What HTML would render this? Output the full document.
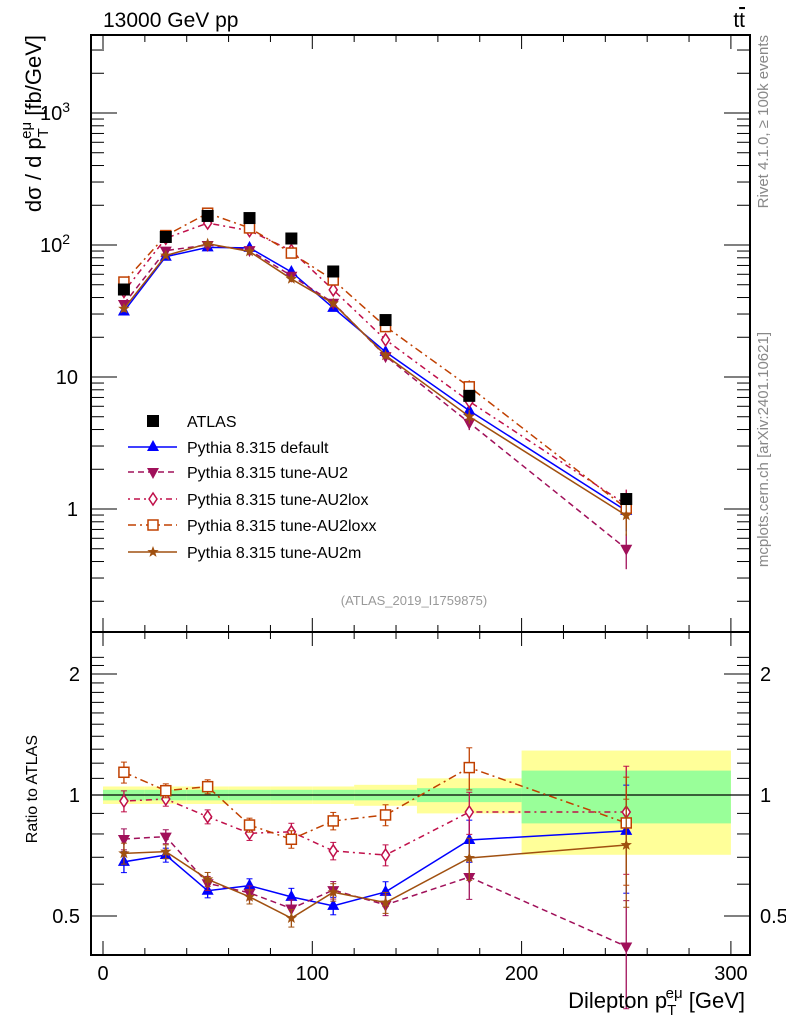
<!DOCTYPE html>
<html><head><meta charset="utf-8"><style>
body{margin:0;background:#fff;}
svg{display:block;font-family:"Liberation Sans",sans-serif;}
</style></head><body>
<svg id="c" width="786" height="1024" xmlns="http://www.w3.org/2000/svg"></svg>
<script>
const xCenters=[10,30,50,70,90,110,135,175,250];
const xEdges=[0,20,40,60,80,100,120,150,200,300];
const atlas=[46,115,166,160,112,63,27,7.2,1.19];
const rDefault=[0.682,0.709,0.578,0.595,0.558,0.530,0.574,0.773,0.814];
const rAU2=[0.777,0.788,0.603,0.571,0.522,0.580,0.533,0.625,0.42];
const rAU2lox=[0.966,0.977,0.883,0.803,0.810,0.726,0.709,0.907,0.907];
const rAU2loxx=[1.139,1.025,1.049,0.842,0.776,0.862,0.892,1.17,0.852];
const rAU2m=[0.716,0.723,0.617,0.558,0.494,0.573,0.54,0.697,0.751];
const statErr=[0.03,0.03,0.03,0.03,0.03,0.03,0.03,0.04,0.15];
const totErr=[0.05,0.05,0.05,0.05,0.05,0.05,0.06,0.10,0.29];
const mcErr=[0.06,0.04,0.04,0.04,0.05,0.05,0.06,0.12,0.3];
const mainTicks=[[1000,"10","3"],[100,"10","2"],[10,"10",""],[1,"1",""]];
const ratioTicks=[[2,"2"],[1,"1"],[0.5,"0.5"]];
const xTicks=[0,100,200,300];

const NS="http://www.w3.org/2000/svg",S=document.getElementById('c');
function el(t,a,p){const e=document.createElementNS(NS,t);for(const k in a)e.setAttribute(k,a[k]);(p||S).appendChild(e);return e;}
const X=v=>103+v*2.093;
const Y=v=>509-132*Math.log10(v);
const R=v=>795-402*Math.log10(v);
const L=91,Rt=750,T=35,M=632,B=955;

atlas.forEach((d,i)=>{
  let b=el('rect',{x:X(xEdges[i]),y:R(1+totErr[i]),width:X(xEdges[i+1])-X(xEdges[i]),height:R(1-totErr[i])-R(1+totErr[i]),fill:'#ffff99'});
  
  
  let g=el('rect',{x:X(xEdges[i]),y:R(1+statErr[i]),width:X(xEdges[i+1])-X(xEdges[i]),height:R(1-statErr[i])-R(1+statErr[i]),fill:'#99ff99'});
  
  
});
el('line',{x1:L,x2:Rt,y1:R(1),y2:R(1),stroke:'#000','stroke-width':1.2});

el('rect',{x:L,y:T,width:Rt-L,height:M-T,fill:'none',stroke:'#000','stroke-width':2});
el('rect',{x:L,y:M,width:Rt-L,height:B-M,fill:'none',stroke:'#000','stroke-width':2});

for(let v=0;v<=300;v+=20){const big=v%100==0;const l=big?14:7;
 [T,M].forEach(y0=>el('line',{x1:X(v),x2:X(v),y1:y0,y2:y0+l,stroke:'#000'}));
 el('line',{x1:X(v),x2:X(v),y1:B,y2:B-l,stroke:'#000'});el('line',{x1:X(v),x2:X(v),y1:M,y2:M-l,stroke:'#000'});}
xTicks.forEach(v=>{const t=el('text',{x:X(v),y:980,'text-anchor':'middle','font-size':20});t.textContent=v;
 });
for(let d=-1;d<4;d++)for(let m=1;m<10;m++){const v=m*Math.pow(10,d);const y=Y(v);if(y<T||y>M)continue;const l=m==1?26:13;
 el('line',{x1:L,x2:L+l,y1:y,y2:y,stroke:'#000'});el('line',{x1:Rt,x2:Rt-l,y1:y,y2:y,stroke:'#000'});}
mainTicks.forEach(t=>{const e=el('text',{x:78,y:Y(t[0])+7,'text-anchor':'end','font-size':20});
 
 e.textContent=t[1];if(t[2]){e.setAttribute('x',70);const s=el('tspan',{dy:-8,'font-size':14},e);s.textContent=t[2];}});
[0.4,0.5,0.6,0.7,0.8,0.9,1,1.1,1.2,1.3,1.4,1.5,1.6,1.7,1.8,1.9,2,2.1,2.2].forEach(v=>{const y=R(v);if(y<M||y>B)return;
 const l=(v==0.5||v==1||v==2)?26:13;el('line',{x1:L,x2:L+l,y1:y,y2:y,stroke:'#000'});el('line',{x1:Rt,x2:Rt-l,y1:y,y2:y,stroke:'#000'});});
ratioTicks.forEach(t=>{[[80,'end'],[760,'start']].forEach(p=>{const e=el('text',{x:p[0],y:R(t[0])+7,'text-anchor':p[1],'font-size':20});e.textContent=t[1];
 });});

const series=[
 {n:'default',r:rDefault,c:'#0000ff',d:'',m:'tri'},
 {n:'au2',r:rAU2,c:'#a0105a',d:'6,4',m:'tridown'},
 {n:'au2lox',r:rAU2lox,c:'#c0104a',d:'2,4,6,4',m:'diamond'},
 {n:'au2loxx',r:rAU2loxx,c:'#c04000',d:'8,4,2,4',m:'square'},
 {n:'au2m',r:rAU2m,c:'#a05010',d:'',m:'star'}];
function marker(type,x,y,c,g){
 if(type=='tri')return el('polygon',{points:`${x},${y-7} ${x-6},${y+4} ${x+6},${y+4}`,fill:c},g);
 if(type=='tridown')return el('polygon',{points:`${x},${y+7} ${x-6},${y-4} ${x+6},${y-4}`,fill:c},g);
 if(type=='diamond')return el('polygon',{points:`${x},${y-6} ${x-4},${y} ${x},${y+6} ${x+4},${y}`,fill:'#fff',stroke:c,'stroke-width':1.5},g);
 if(type=='square')return el('rect',{x:x-5,y:y-5,width:10,height:10,fill:'#fff',stroke:c,'stroke-width':1.5},g);
 if(type=='star'){let p=[];for(let k=0;k<10;k++){const a=-Math.PI/2+k*Math.PI/5,rr=k%2?2.5:6;p.push((x+rr*Math.cos(a))+','+(y+rr*Math.sin(a)));}
  return el('polygon',{points:p.join(' '),fill:c},g);}
}
series.forEach(s=>{
 const g=el('g',{});
 const mp=xCenters.map((x,i)=>X(x)+','+Y(atlas[i]*s.r[i])).join(' ');
 const rp=xCenters.map((x,i)=>X(x)+','+R(s.r[i])).join(' ');
 el('polyline',{points:mp,fill:'none',stroke:s.c,'stroke-width':1.5,'stroke-dasharray':s.d},g);
 el('polyline',{points:rp,fill:'none',stroke:s.c,'stroke-width':1.5,'stroke-dasharray':s.d},g);
 xCenters.forEach((x,i)=>{const v=atlas[i]*s.r[i],e=mcErr[i];
  el('line',{x1:X(x),x2:X(x),y1:Y(v*(1+e)),y2:Y(v*(1-e)),stroke:s.c,'stroke-width':1.3},g);
  el('line',{x1:X(x),x2:X(x),y1:R(s.r[i]*(1+e)),y2:R(s.r[i]*(1-e)),stroke:s.c,'stroke-width':1.3},g);
  [s.r[i]*(1+e),s.r[i]*(1-e)].forEach(q=>el('line',{x1:X(x)-3,x2:X(x)+3,y1:R(q),y2:R(q),stroke:s.c},g));
  const m1=marker(s.m,X(x),Y(v),s.c,g);
  const m2=marker(s.m,X(x),R(s.r[i]),s.c,g);
 });
});
xCenters.forEach((x,i)=>{const p=el('rect',{x:X(x)-6,y:Y(atlas[i])-6,width:12,height:12,fill:'#000'});
 });

const leg=[['ATLAS',null],['Pythia 8.315 default',series[0]],['Pythia 8.315 tune-AU2',series[1]],['Pythia 8.315 tune-AU2lox',series[2]],['Pythia 8.315 tune-AU2loxx',series[3]],['Pythia 8.315 tune-AU2m',series[4]]];
const lys=[421,447,472,499,525,552];
leg.forEach((l,i)=>{const g=el('g',{});
 const y=lys[i];
 if(!l[1])el('rect',{x:147,y:y-6,width:12,height:12,fill:'#000'},g);
 else{el('line',{x1:128,x2:177,y1:y,y2:y,stroke:l[1].c,'stroke-width':1.5,'stroke-dasharray':l[1].d},g);marker(l[1].m,153,y,l[1].c,g);}
 const t=el('text',{x:187,y:y+6,'font-size':16},g);t.textContent=l[0];});

function txt(s,a,n){const t=el('text',a);t.textContent=s;return t;}
txt('13000 GeV pp',{x:103,y:27,'font-size':21},'header-process');
const tt=txt('t',{x:745,y:27,'font-size':21,'text-anchor':'end'},'header-final-state');
const ts=el('tspan',{style:'text-decoration:overline'},tt);ts.textContent='t';
txt('(ATLAS_2019_I1759875)',{x:414,y:605,'font-size':13,fill:'#999','text-anchor':'middle'},'analysis-id');
txt('Rivet 4.1.0, ≥ 100k events',{x:0,y:0,'font-size':15,fill:'#888','text-anchor':'end',transform:'translate(768,35) rotate(-90)'},'rivet-label');
txt('mcplots.cern.ch [arXiv:2401.10621]',{x:0,y:0,'font-size':15,fill:'#888','text-anchor':'end',transform:'translate(768,332) rotate(-90)'},'mcplots-label');
const yt=txt('',{x:0,y:0,'font-size':22,'text-anchor':'end',transform:'translate(41,35) rotate(-90)'},'y-axis-title');
const a1=el('tspan',{},yt);a1.textContent='dσ / d p';
const a2=el('tspan',{dy:7,'font-size':15},yt);a2.textContent='T';
const a3=el('tspan',{dy:-17,dx:-9,'font-size':15},yt);a3.textContent='eμ';
const a4=el('tspan',{dy:10},yt);a4.textContent=' [fb/GeV]';
txt('Ratio to ATLAS',{x:0,y:0,'font-size':16,'text-anchor':'end',transform:'translate(37,735) rotate(-90)'},'ratio-axis-title');
const xt=txt('',{x:745,y:1008,'font-size':22,'text-anchor':'end'},'x-axis-title');
const b1=el('tspan',{},xt);b1.textContent='Dilepton p';
const b2=el('tspan',{dy:7,'font-size':15},xt);b2.textContent='T';
const b3=el('tspan',{dy:-17,dx:-9,'font-size':15},xt);b3.textContent='eμ';
const b4=el('tspan',{dy:10},xt);b4.textContent='  [GeV]';
</script>
</body></html>
